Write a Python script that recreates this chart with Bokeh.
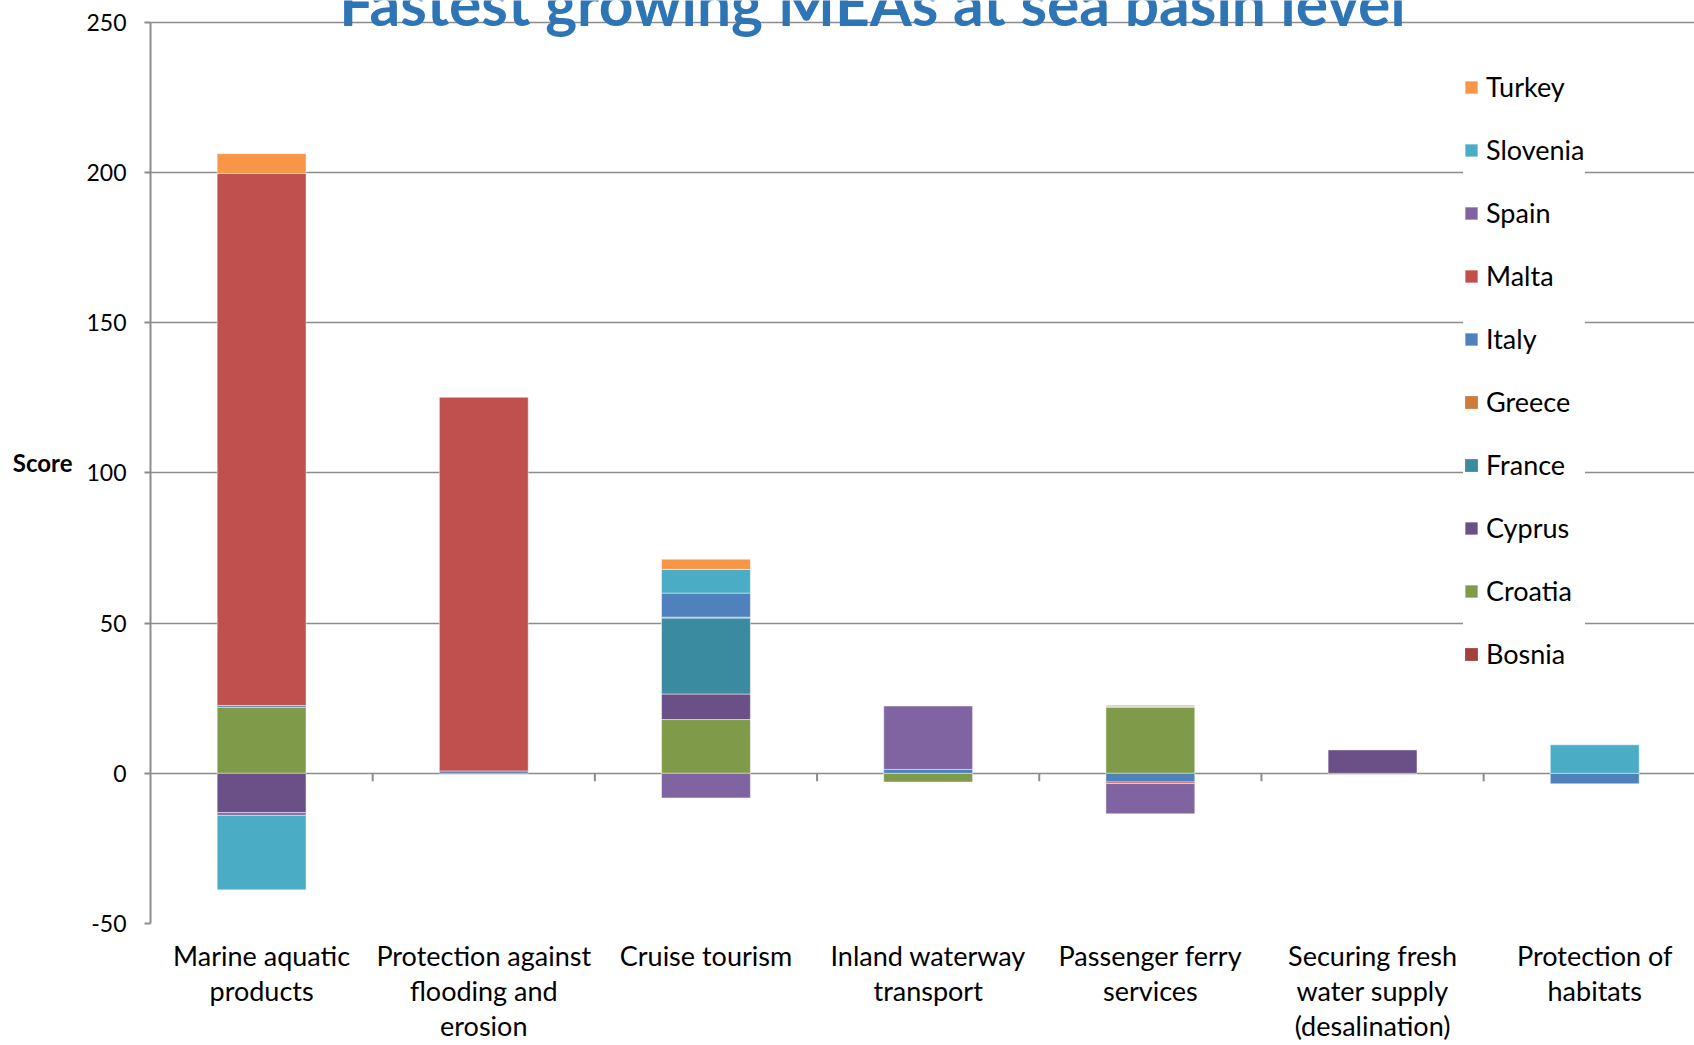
import numpy as np
from bokeh.plotting import figure
from bokeh.models import Range1d, FixedTicker, Legend, LegendItem, Label
from bokeh.core.properties import value
from bokeh.embed import file_html
from bokeh.resources import INLINE

# Maritime economic activities (x categories)
categories = [
    "Marine aquatic\nproducts",
    "Protection against\nflooding and\nerosion",
    "Cruise tourism",
    "Inland waterway\ntransport",
    "Passenger ferry\nservices",
    "Securing fresh\nwater supply\n(desalination)",
    "Protection of\nhabitats",
]

# Score per country, in stacking order (bottom to top)
countries = ["Bosnia", "Croatia", "Cyprus", "France", "Greece",
             "Italy", "Malta", "Spain", "Slovenia", "Turkey"]
bosnia   = [0.0,   0.0,   0.0,  0.0,   0.0,  0.0,  0.0]
croatia  = [22.0,  0.0,  17.9, -2.9,  22.0,  0.0,  0.0]
cyprus   = [-13.1, 0.0,   8.5,  0.0,   0.0,  7.8,  0.0]
france   = [0.0,   0.0,  25.3,  0.0,   0.0,  0.0,  0.0]
greece   = [0.0,   0.0,   0.3,  0.0,   0.0,  0.0,  0.0]
italy    = [0.6,   0.8,   8.0,  1.3,  -2.9,  0.0, -3.5]
malta    = [177.1, 124.4, 0.0,  0.0,  -0.5,  0.0,  0.0]
spain    = [-0.9,  0.0,  -8.2, 21.1, -10.1,  0.0,  0.0]
slovenia = [-24.8, 0.0,   7.9,  0.0,   0.3,  0.0,  9.5]
turkey   = [6.6,   0.0,   3.4,  0.0,   0.4,  0.0,  0.0]
series = [bosnia, croatia, cyprus, france, greece, italy, malta, spain, slovenia, turkey]

colors = ["#A2413F", "#7F9A48", "#6A5087", "#3B8BA0", "#CD7A3A",
          "#4F81BD", "#C0504D", "#8064A2", "#4BACC6", "#F79646"]

y_ticks = [-50, 0, 50, 100, 150, 200, 250]
title_text = "Fastest growing MEAs at sea basin level"
footer_text = "Turkey, Cyprus and Italy: fastest growth of Coastal tourism"

FONT = "Lato"
GRID = "#8c8c8c"

n = len(categories)
centers = [i + 0.5 for i in range(n)]
boundaries = list(range(1, n))

# The frame reaches the top edge; the extra headroom above 250 holds the heading
p = figure(width=1694, height=1045, output_backend="svg", toolbar_location=None,
           x_range=Range1d(0, 6.949), y_range=Range1d(-50, 257.3),
           min_border_left=150, min_border_right=0, min_border_top=0,
           min_border_bottom=122, outline_line_color=None,
           background_fill_color="white", border_fill_color="white")

# Stacked bars: positives stack upward from zero, negatives downward
pos = np.zeros(n)
neg = np.zeros(n)
renderers = []
for name, vals, col in zip(countries, series, colors):
    v = np.array(vals, dtype=float)
    bottom = np.where(v >= 0, pos, neg + v)
    top = np.where(v >= 0, pos + v, neg)
    pos = pos + np.clip(v, 0, None)
    neg = neg + np.clip(v, None, 0)
    edge_alpha = np.where(v != 0, 0.6, 0.0)
    r = p.vbar(x=centers, bottom=bottom, top=top, width=0.4,
               fill_color=col, line_color="white", line_width=0.8,
               line_alpha=edge_alpha)
    renderers.append((name, r))

# Y axis and gridlines
yt = FixedTicker(ticks=y_ticks)
p.yaxis.ticker = yt
p.yaxis.bounds = (y_ticks[0], y_ticks[-1])
p.yaxis.major_label_overrides = {t: str(t) for t in y_ticks}
p.yaxis.minor_tick_line_color = None
p.yaxis.major_tick_out = 6
p.yaxis.major_tick_in = 0
p.yaxis.major_tick_line_color = GRID
p.yaxis.major_tick_line_width = 2
p.yaxis.axis_line_color = GRID
p.yaxis.axis_line_width = 2
p.yaxis.major_label_text_font = FONT
p.yaxis.major_label_text_font_size = "23px"
p.yaxis.major_label_text_color = "black"
p.yaxis.major_label_standoff = 18
p.yaxis.axis_label = "Score"
p.yaxis.axis_label_orientation = "horizontal"
p.yaxis.axis_label_text_font = FONT
p.yaxis.axis_label_text_font_style = "bold"
p.yaxis.axis_label_text_font_size = "24px"
p.yaxis.axis_label_text_color = "black"
p.yaxis.axis_label_standoff = 11

p.ygrid.ticker = yt
p.ygrid.grid_line_color = GRID
p.ygrid.grid_line_width = 1.6
p.xgrid.visible = False

# Category labels along the bottom
p.xaxis.ticker = FixedTicker(ticks=centers)
p.xaxis.major_label_overrides = {c: lab for c, lab in zip(centers, categories)}
p.xaxis.axis_line_color = None
p.xaxis.major_tick_line_color = None
p.xaxis.minor_tick_line_color = None
p.xaxis.major_label_text_font = FONT
p.xaxis.major_label_text_font_size = "27px"
p.xaxis.major_label_text_color = "black"
p.xaxis.major_label_text_line_height = 1.07
p.xaxis.major_label_standoff = 9

# Category separators hanging from the zero line
sep_len = 8 / 3.0036  # 8 px expressed in score units
p.segment(x0=boundaries, x1=boundaries, y0=[0] * len(boundaries),
          y1=[-sep_len] * len(boundaries), line_color=GRID, line_width=2)

# Legend, top of stack listed first
items = [LegendItem(label=name, renderers=[r]) for name, r in reversed(renderers)]
legend = Legend(items=items, location=(1313, 253), padding=46, spacing=30,
                glyph_width=16, glyph_height=16, label_height=33, label_width=97,
                label_standoff=7, label_text_font=FONT, label_text_font_size="27px",
                label_text_color="black", border_line_color=None,
                background_fill_color="white", background_fill_alpha=1.0, margin=0)
p.add_layout(legend)

# Heading, mostly above the top edge
p.text(x=[3.249], y=[256.6], text=[title_text], text_align="center",
       text_baseline="alphabetic", text_font=value(FONT),
       text_font_size="60.5px", text_font_style="bold", text_color="#2E75B6")

footer = Label(x=3.555, y=-90.0, text=footer_text,
               text_align="left", text_baseline="alphabetic", text_font=FONT,
               text_font_size="28px", text_font_style="italic", text_color="#1F5FA0")
p.add_layout(footer)

open("out.html", "w").write(file_html(p, INLINE))
